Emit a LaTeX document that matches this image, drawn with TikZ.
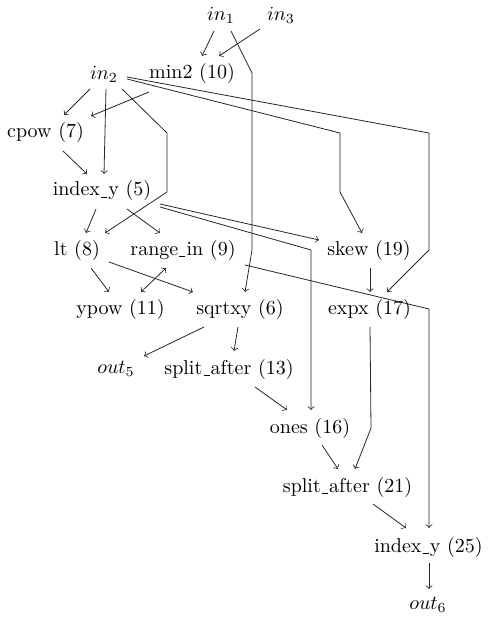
\documentclass[tikz,border=0pt]{standalone}
\newcommand\usc{\leavevmode\kern.06em\lower1pt\vbox{\hrule width.3em}\kern.06em}
\begin{document}
\begin{tikzpicture}[x=0.5pt,y=-0.5pt,
  lbl/.style={inner sep=0pt,anchor=center},
  e/.style={->,line width=0.4pt,black!85}]
\useasboundingbox (0,0) rectangle (491,620);
% nodes
\node[lbl] (in1) at (221,15) {$in_1$};
\node[lbl] (in3) at (281,15) {$in_3$};
\node[lbl] (in2) at (104,74) {$in_2$};
\node[lbl] (min2) at (192,74) {min2 (10)};
\node[lbl] (cpow) at (45.5,133) {cpow (7)};
\node[lbl] (idx5) at (102,191) {index\usc y (5)};
\node[lbl] (lt) at (77,250) {lt (8)};
\node[lbl] (rng) at (183,250) {range\usc in (9)};
\node[lbl] (skew) at (369,250) {skew (19)};
\node[lbl] (ypow) at (120.5,309) {ypow (11)};
\node[lbl] (sqrt) at (240,309) {sqrtxy (6)};
\node[lbl] (expx) at (369.5,309) {expx (17)};
\node[lbl] (out5) at (116,369) {$out_5$};
\node[lbl] (sa13) at (229,369) {split\usc after (13)};
\node[lbl] (ones) at (310,428) {ones (16)};
\node[lbl] (sa21) at (347.5,487) {split\usc after (21)};
\node[lbl] (idx25) at (428.5,547) {index\usc y (25)};
\node[lbl] (out6) at (428,605) {$out_6$};
% bend points
\coordinate (b1a) at (252,73);
\coordinate (b1b) at (252,250);
\coordinate (b2a) at (167,133);
\coordinate (b2b) at (167,192);
\coordinate (b3a) at (340,133);
\coordinate (b3b) at (340,192);
\coordinate (b4a) at (429,133);
\coordinate (b4b) at (429,250);
\coordinate (b5) at (311,250);
\coordinate (b6) at (429,309);
\coordinate (b7) at (371,428);
% edges
\draw[e] ([shift={(-7,16)}]in1.center) -- ([shift={(10,-18)}]min2.center);
\draw[e] ([shift={(-21,14)}]in3.center) -- ([shift={(27,-18)}]min2.center);
\draw[e] ([shift={(10,16)}]in1.center) -- (b1a) -- (b1b) -- ([shift={(5,-17)}]sqrt.center);
\draw[e] ([shift={(-14,15)}]in2.center) -- ([shift={(18.5,-18)}]cpow.center);
\draw[e] ([shift={(-43,18)}]min2.center) -- ([shift={(45.5,-17)}]cpow.center);
\draw[e] ([shift={(2,15)}]in2.center) -- ([shift={(2,-17)}]idx5.center);
\draw[e] ([shift={(18,15)}]in2.center) -- (b2a) -- (b2b) -- ([shift={(28,-17)}]lt.center);
\draw[e] ([shift={(23,5)}]in2.center) -- (b3a) -- (b3b) -- ([shift={(-7,-17)}]skew.center);
\draw[e] ([shift={(23,3)}]in2.center) -- (b4a) -- (b4b) -- ([shift={(17.5,-17)}]expx.center);
\draw[e] ([shift={(17.5,18)}]cpow.center) -- ([shift={(-15,-17)}]idx5.center);
\draw[e] ([shift={(-6,18)}]idx5.center) -- ([shift={(9,-17)}]lt.center);
\draw[e] ([shift={(25,18)}]idx5.center) -- ([shift={(-23,-17)}]rng.center);
\draw[e] ([shift={(58,13)}]idx5.center) -- ([shift={(-50,-10)}]skew.center);
\draw[e] ([shift={(58,16)}]idx5.center) -- (b5) -- ([shift={(1,-18)}]ones.center);
\draw[e] ([shift={(14,18)}]lt.center) -- ([shift={(-11.5,-17)}]ypow.center);
\draw[e] ([shift={(32,12)}]lt.center) -- ([shift={(-47,-17)}]sqrt.center);
\draw[e,<->] ([shift={(-17,18)}]rng.center) -- ([shift={(20.5,-17)}]ypow.center);
\draw[e] ([shift={(62,15)}]rng.center) -- (b6) -- ([shift={(0.5,-19)}]idx25.center);
\draw[e] ([shift={(1,18)}]skew.center) -- ([shift={(0.5,-17)}]expx.center);
\draw[e] ([shift={(-36,18)}]sqrt.center) -- ([shift={(28,-13)}]out5.center);
\draw[e] ([shift={(-2,18)}]sqrt.center) -- ([shift={(5,-18)}]sa13.center);
\draw[e] ([shift={(0.5,18)}]expx.center) -- (b7) -- ([shift={(7.5,-18)}]sa21.center);
\draw[e] ([shift={(26,18)}]sa13.center) -- ([shift={(-23,-18)}]ones.center);
\draw[e] ([shift={(12,17)}]ones.center) -- ([shift={(-9.5,-18)}]sa21.center);
\draw[e] ([shift={(25.5,17)}]sa21.center) -- ([shift={(-22.5,-19)}]idx25.center);
\draw[e] ([shift={(0.5,16)}]idx25.center) -- ([shift={(1,-16)}]out6.center);
\end{tikzpicture}
\end{document}
